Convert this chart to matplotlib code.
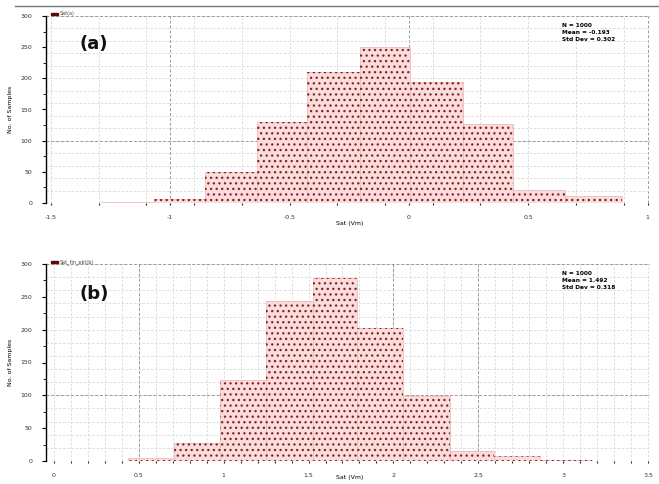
import matplotlib
matplotlib.use("Agg")
import matplotlib.pyplot as plt
from matplotlib.lines import Line2D
from matplotlib.patches import Rectangle
import numpy as np

# ---------------- data ----------------
# (a)
a_edges = [-1.291, -1.069, -0.856, -0.638, -0.425, -0.203, 0.006, 0.228, 0.437, 0.655, 0.893]
a_counts = [2, 6, 50, 130, 210, 250, 194, 126, 21, 11]
a_xticks = [-1.5, -1.0, -0.5, 0.0, 0.5, 1.0]
a_xticklabels = ["-1.5", "-1", "-0.5", "0", "0.5", "1"]
a_major_x = [-1.0, 0.0, 1.0]
a_stats = ["N = 1000", "Mean = -0.193", "Std Dev = 0.302"]
a_legend = "Sat(a)"

# (b)
b_edges = [0.435, 0.706, 0.976, 1.247, 1.524, 1.788, 2.059, 2.335, 2.594, 2.865, 3.171]
b_counts = [5, 27, 123, 243, 278, 202, 99, 15, 7, 1]
b_xticks = [0.0, 0.5, 1.0, 1.5, 2.0, 2.5, 3.0, 3.5]
b_xticklabels = ["0", "0.5", "1", "1.5", "2", "2.5", "3", "3.5"]
b_major_x = [0.5, 2.0, 2.5]
b_stats = ["N = 1000", "Mean = 1.492", "Std Dev = 0.318"]
b_legend = "Sat_fin_pkt(b)"

y_ticks = [0, 50, 100, 150, 200, 250, 300]
y_major_grid = [100, 300]

# ---------------- figure ----------------
fig = plt.figure(figsize=(6.59, 4.84), dpi=100)
W, H = 659, 484

def ax_rect(l, t, r, b):
    return [l / W, 1 - b / H, (r - l) / W, (b - t) / H]

pink = "#f9dcdc"
speck = "#8a1f1f"
plt.rcParams["hatch.linewidth"] = 0.9


def draw(ax, edges, counts, xlim, xticks, xticklabels, minor_step, major_x,
         tag, stats, legend):
    edges = np.asarray(edges)
    widths = np.diff(edges)
    lefts = edges[:-1]
    ax.set_xlim(*xlim)
    ax.set_ylim(0, 300)
    # grids
    xm = np.arange(xticks[0], xlim[1] + 1e-9, minor_step)
    for x in xm:
        ax.axvline(x, color="#d9d9d9", lw=0.6, ls=(0, (3, 2)), zorder=0)
    for x in major_x:
        ax.axvline(x, color="#9a9a9a", lw=0.7, ls=(0, (3, 2)), zorder=0)
    for y in np.arange(0, 301, 20):
        ax.axhline(y, color="#d9d9d9", lw=0.6, ls=(0, (3, 2)), zorder=0)
    for y in y_major_grid:
        ax.axhline(y, color="#9a9a9a", lw=0.7, ls=(0, (3, 2)), zorder=0)
    # bars
    ax.bar(lefts, counts, width=widths, align="edge", color=pink,
           edgecolor="#efbcbc", linewidth=0.6, zorder=2)
    ax.bar(lefts, counts, width=widths, align="edge", color="none",
           edgecolor=speck, hatch="...", linewidth=0, zorder=3)
    # axes styling
    for s in ["top", "right", "bottom"]:
        ax.spines[s].set_visible(False)
    ax.spines["left"].set_color("black")
    ax.spines["left"].set_linewidth(1.0)
    ax.set_xticks(xticks)
    ax.set_xticklabels(xticklabels, fontsize=4.5, color="#333333")
    ax.set_xticks(np.arange(xticks[0], xlim[1] + 1e-9, minor_step), minor=True)
    ax.tick_params(axis="x", which="both", length=1.5, width=0.8, pad=7,
                   color="#222222")
    ax.set_yticks(y_ticks)
    ax.set_yticklabels([str(v) for v in y_ticks], fontsize=4.5, color="#333333")
    ax.set_yticks(np.arange(0, 301, 25), minor=True)
    ax.tick_params(axis="y", which="major", length=3, width=0.8, pad=7)
    ax.tick_params(axis="y", which="minor", length=2, width=0.6)
    ax.set_ylabel("No. of Samples", fontsize=4.5, labelpad=5)
    ax.text(0.055, 0.85, tag, transform=ax.transAxes, fontsize=13,
            fontweight="semibold", color="#111111", va="center")
    ax.text(0.855, 0.965, "\n".join(stats), transform=ax.transAxes,
            fontsize=4.2, fontweight="bold", va="top", linespacing=1.5)
    # legend
    ax.add_patch(Rectangle((0.008, 1.005), 0.012, 0.012, transform=ax.transAxes,
                           color="#5a0a0a", clip_on=False))
    ax.text(0.022, 1.011, legend, transform=ax.transAxes, fontsize=3.5,
            va="center", color="#444444", clip_on=False)


ax1 = fig.add_axes(ax_rect(46, 16, 650, 203))
draw(ax1, a_edges, a_counts, (-1.52, 1.01), a_xticks, a_xticklabels, 0.2,
     a_major_x, "(a)", a_stats, a_legend)
fig.text(350 / W, 1 - 224 / H, "Sat (Vm)", fontsize=4.5, ha="center", va="center")

ax2 = fig.add_axes(ax_rect(46, 264, 650, 461))
draw(ax2, b_edges, b_counts, (-0.047, 3.512), b_xticks, b_xticklabels, 0.1,
     b_major_x, "(b)", b_stats, b_legend)
fig.text(350 / W, 1 - 478 / H, "Sat (Vm)", fontsize=4.5, ha="center", va="center")

fig.add_artist(Line2D([15 / W, 1.0], [1 - 6 / H, 1 - 6 / H], color="#777777",
                      lw=1.0, transform=fig.transFigure))

fig.savefig("out.png", dpi=100)
